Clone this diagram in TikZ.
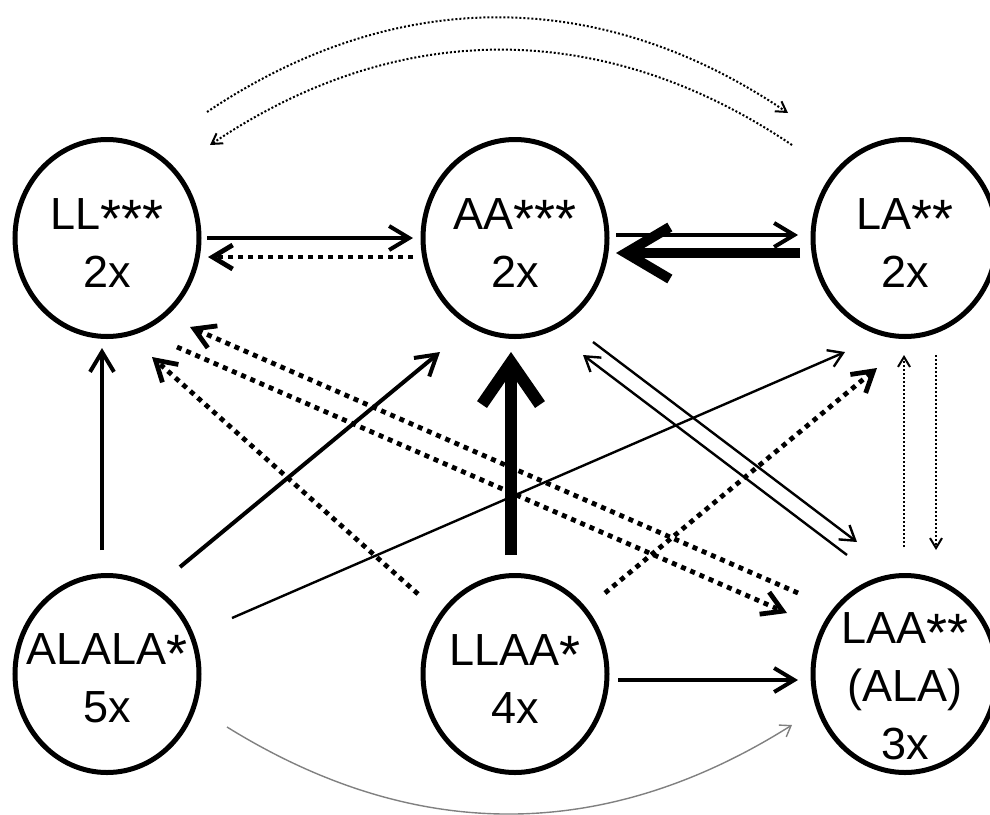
\documentclass[tikz,border=0pt]{standalone}
\usepackage{fontspec}
\setmainfont{Liberation Sans}
\usetikzlibrary{shapes.geometric,arrows.meta,calc}

% raised, slightly larger stars; the rule lowers the whole label a little
\newcommand{\stars}[2][20pt]{\rule{0pt}{#1}\raisebox{-4pt}{\fontsize{27}{29}\selectfont #2}}

\tikzset{
  state/.style={ellipse,draw,line width=2.5pt,minimum width=92pt,minimum height=98.5pt,
    inner sep=-10pt,align=center,font=\fontsize{22.5}{29}\selectfont},
  solidarr/.style={line width=2pt,-{Straight Barb[length=10pt,width=12pt]}},
  dotarr/.style={line width=2.4pt,dash pattern=on 2.5pt off 2.5pt,-{Straight Barb[length=10pt,width=12pt]}},
  boldarr/.style={line width=5pt,-{Straight Barb[length=22pt,width=26pt]}},
  heavyarr/.style={line width=6pt,-{Straight Barb[length=21pt,width=29pt]}},
  finearr/.style={line width=1.2pt,-{Straight Barb[length=7pt,width=9pt]}},
  finedot/.style={line width=1pt,dash pattern=on 1pt off 1pt,-{Straight Barb[length=5pt,width=6pt]}},
  greyarr/.style={gray,line width=0.7pt,-{Straight Barb[length=5pt,width=7pt]}}
}

\begin{document}
\begin{tikzpicture}[x=0.5pt,y=-0.5pt]
\useasboundingbox (0,0) rectangle (990,814);

\node[state] (ll) at (107,238) {LL\stars{***}\\2x};
\node[state] (aa) at (515,238) {AA\stars{***}\\2x};
\node[state] (la) at (905,238) {LA\stars{**}\\2x};
\node[state] (alala) at (107,674) {ALALA\stars{*}\\5x};
\node[state] (llaa) at (515,674) {LLAA\stars{*}\\4x};
\node[state] (laa) at (905,674) {LAA\stars[28pt]{**}\\(ALA)\\3x};

% top row
\draw[solidarr] ($(ll)+(100,0)$) -- ($(aa)+(-102,0)$);
\draw[dotarr] ($(aa)+(-102,19)$) -- ($(ll)+(101,19)$);
\draw[solidarr] ($(aa)+(101,-3)$) -- ($(la)+(-107,-3)$);
\draw[boldarr] ($(la)+(-105,15)$) -- ($(aa)+(101,15)$);

% arcs over the top
\draw[finedot] ($(ll)+(100,-126)$) to[bend left=34] ($(la)+(-117,-125)$);
\draw[finedot] ($(la)+(-113,-93)$) to[bend right=34] ($(ll)+(103,-93)$);

% from ALALA
\draw[solidarr] ($(alala)+(-5,-124)$) -- ($(ll)+(-5,110)$);
\draw[solidarr] ($(alala)+(73,-107)$) -- ($(aa)+(-75,114)$);
\draw[finearr] ($(alala)+(125,-56)$) -- ($(la)+(-60,114)$);
\draw[greyarr] ($(alala)+(120,53)$) to[bend right=32] ($(laa)+(-113,51)$);

% from LLAA
\draw[heavyarr] ($(llaa)+(-4,-119)$) -- ($(aa)+(-4,114)$);
\draw[dotarr] ($(llaa)+(-97,-80)$) -- ($(ll)+(45,119)$);
\draw[dotarr] ($(llaa)+(90,-81)$) -- ($(la)+(-28,130)$);
\draw[solidarr] ($(llaa)+(103,6)$) -- ($(laa)+(-107,6)$);

% LL <-> LAA
\draw[dotarr] ($(laa)+(-107,-81)$) -- ($(ll)+(83,89)$);
\draw[dotarr] ($(ll)+(70,109)$) -- ($(laa)+(-118,-61)$);

% AA <-> LAA
\draw[finearr] ($(aa)+(78,104)$) -- ($(laa)+(-48,-132)$);
\draw[finearr] ($(laa)+(-58,-119)$) -- ($(aa)+(68,117)$);

% LA <-> LAA
\draw[finedot] ($(laa)+(-1,-127)$) -- ($(la)+(-1,117)$);
\draw[finedot] ($(la)+(31,117)$) -- ($(laa)+(31,-124)$);

\end{tikzpicture}
\end{document}
